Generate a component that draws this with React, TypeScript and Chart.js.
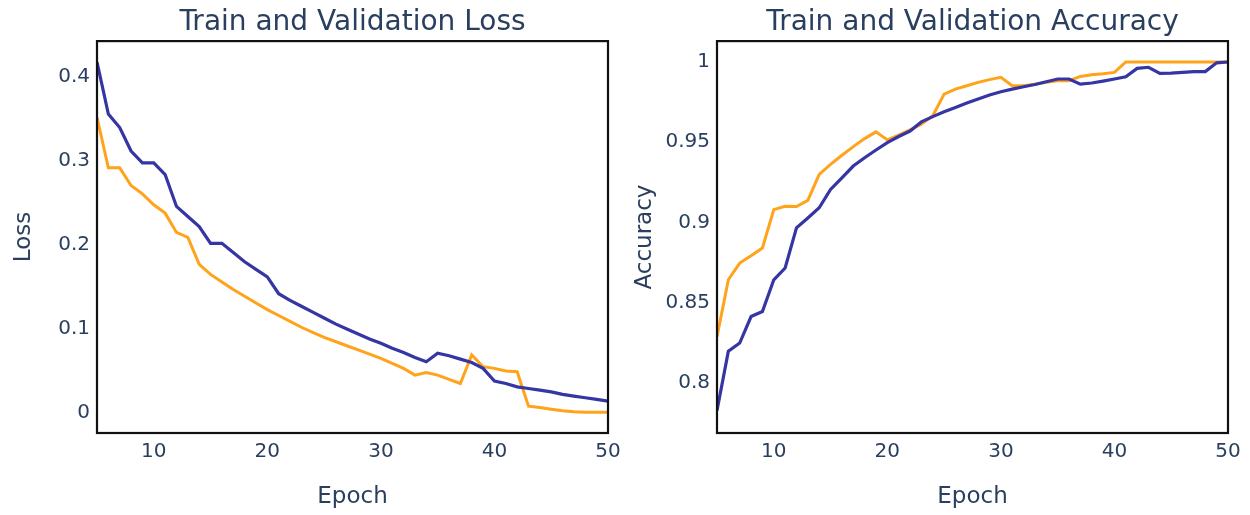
import React, { useEffect, useRef } from "react";
import { Chart, registerables } from "chart.js";

Chart.register(...registerables);

const EPOCHS = [5, 6, 7, 8, 9, 10, 11, 12, 13, 14, 15, 16, 17, 18, 19, 20, 21, 22, 23, 24, 25, 26, 27, 28, 29, 30, 31, 32, 33, 34, 35, 36, 37, 38, 39, 40, 41, 42, 43, 44, 45, 46, 47, 48, 49, 50];

const TRAIN_LOSS = [0.418, 0.356, 0.340, 0.312, 0.298, 0.298, 0.284, 0.246, 0.234, 0.222, 0.202, 0.202, 0.191, 0.180, 0.171, 0.162, 0.142, 0.134, 0.127, 0.120, 0.113, 0.106, 0.100, 0.094, 0.088, 0.083, 0.077, 0.072, 0.066, 0.061, 0.071, 0.068, 0.064, 0.060, 0.053, 0.038, 0.035, 0.031, 0.029, 0.027, 0.025, 0.022, 0.020, 0.018, 0.016, 0.014];

const VAL_LOSS = [0.352, 0.292, 0.292, 0.271, 0.261, 0.248, 0.238, 0.215, 0.209, 0.177, 0.165, 0.156, 0.147, 0.139, 0.131, 0.123, 0.116, 0.109, 0.102, 0.096, 0.090, 0.085, 0.080, 0.075, 0.070, 0.065, 0.059, 0.053, 0.045, 0.048, 0.045, 0.040, 0.035, 0.069, 0.055, 0.053, 0.050, 0.049, 0.008, 0.0065, 0.0044, 0.0025, 0.0013, 0.0008, 0.0008, 0.0008];

const TRAIN_ACC = [0.783, 0.820, 0.825, 0.8415, 0.8446, 0.8644, 0.8717, 0.8967, 0.9029, 0.9092, 0.9206, 0.9279, 0.9352, 0.9404, 0.9452, 0.9498, 0.9536, 0.957, 0.9627, 0.966, 0.969, 0.9717, 0.9744, 0.9769, 0.9794, 0.9815, 0.9831, 0.9846, 0.986, 0.9877, 0.9894, 0.9894, 0.9862, 0.9869, 0.9881, 0.9894, 0.9908, 0.996, 0.9967, 0.9929, 0.9931, 0.9935, 0.994, 0.994, 0.9995, 1.0];

const VAL_ACC = [0.829, 0.8644, 0.8748, 0.8794, 0.8842, 0.9081, 0.9102, 0.910, 0.9138, 0.930, 0.9362, 0.9419, 0.9473, 0.9523, 0.9565, 0.9515, 0.9544, 0.9578, 0.9613, 0.9665, 0.980, 0.9831, 0.9852, 0.9873, 0.989, 0.9904, 0.9852, 0.9852, 0.9862, 0.9873, 0.9883, 0.9883, 0.991, 0.9921, 0.9927, 0.9935, 1.0, 1.0, 1.0, 1.0, 1.0, 1.0, 1.0, 1.0, 1.0, 1.0];

const X_TICKS = [10, 20, 30, 40, 50];
const LOSS_TICKS = [0, 0.1, 0.2, 0.3, 0.4];
const ACC_TICKS = [0.8, 0.85, 0.9, 0.95, 1];

const TEXT_COLOR = "#2a3f5f";
const TRAIN_COLOR = "#3535a3";
const VAL_COLOR = "#ffa31a";
const FONT = "'DejaVu Sans', Verdana, sans-serif";

const framePlugin = {
  id: "frame",
  afterDatasetsDraw(chart: any) {
    const { ctx, chartArea } = chart;
    ctx.save();
    ctx.strokeStyle = "#111";
    ctx.lineWidth = 2.2;
    ctx.strokeRect(chartArea.left, chartArea.top, chartArea.right - chartArea.left, chartArea.bottom - chartArea.top);
    ctx.restore();
  },
};

type Cfg = {
  title: string;
  yTitle: string;
  train: number[];
  val: number[];
  yMin: number;
  yMax: number;
  yTicks: number[];
  yWidth: number;
  padRight: number;
  yTitlePad: number;
};

function TrainingChart(props: Cfg) {
  const ref = useRef<HTMLCanvasElement | null>(null);
  useEffect(() => {
    if (!ref.current) return;
    const chart = new Chart(ref.current, {
      type: "line",
      data: {
        datasets: [
          {
            label: "train",
            data: EPOCHS.map((e, i) => ({ x: e, y: props.train[i] })),
            borderColor: TRAIN_COLOR,
            borderWidth: 3.2,
            pointRadius: 0,
            tension: 0,
          },
          {
            label: "validation",
            data: EPOCHS.map((e, i) => ({ x: e, y: props.val[i] })),
            borderColor: VAL_COLOR,
            borderWidth: 3,
            pointRadius: 0,
            tension: 0,
          },
        ],
      },
      options: {
        responsive: false,
        animation: false,
        layout: { padding: { left: 0, right: props.padRight, top: 0, bottom: 0 } },
        plugins: {
          legend: { display: false },
          tooltip: { enabled: false },
          title: {
            display: true,
            text: props.title,
            fullSize: false,
            color: TEXT_COLOR,
            font: { family: FONT, size: 28, weight: "normal" },
            padding: { top: 6, bottom: 1.5 },
          },
        },
        scales: {
          x: {
            type: "linear",
            min: 5,
            max: 50,
            grid: { display: false, drawTicks: false },
            border: { display: false },
            afterBuildTicks: (axis: any) => {
              axis.ticks = X_TICKS.map((v) => ({ value: v }));
            },
            afterFit: (axis: any) => {
              axis.height = 82;
              axis.paddingLeft = 0;
              axis.paddingRight = 0;
            },
            ticks: {
              color: TEXT_COLOR,
              font: { family: FONT, size: 20 },
              padding: 7,
              maxRotation: 0,
              autoSkip: false,
            },
            title: {
              display: true,
              text: "Epoch",
              color: TEXT_COLOR,
              font: { family: FONT, size: 23 },
              padding: { top: 0, bottom: 4 },
            },
          },
          y: {
            type: "linear",
            min: props.yMin,
            max: props.yMax,
            grid: { display: false, drawTicks: false },
            border: { display: false },
            afterBuildTicks: (axis: any) => {
              axis.ticks = props.yTicks.map((v) => ({ value: v }));
            },
            afterFit: (axis: any) => {
              axis.width = props.yWidth;
              axis.paddingTop = 0;
              axis.paddingBottom = 0;
            },
            ticks: {
              color: TEXT_COLOR,
              font: { family: FONT, size: 20 },
              padding: 7,
              autoSkip: false,
              callback: (v: any) => String(Math.round(Number(v) * 1000) / 1000),
            },
            title: {
              display: true,
              text: props.yTitle,
              color: TEXT_COLOR,
              font: { family: FONT, size: 23 },
              padding: { top: props.yTitlePad, bottom: 0 },
            },
          },
        },
      },
      plugins: [framePlugin],
    } as any);
    return () => chart.destroy();
  }, []);
  return <canvas ref={ref} width={625} height={515} style={{ display: "block", width: 625, height: 515 }} />;
}

export default function App() {
  return (
    <div style={{ position: "absolute", left: 0, top: 0, width: 1250, height: 515, background: "#fff", display: "flex" }}>
      <TrainingChart
        title="Train and Validation Loss"
        yTitle="Loss"
        train={TRAIN_LOSS}
        val={VAL_LOSS}
        yMin={-0.024}
        yMax={0.443}
        yTicks={LOSS_TICKS}
        yWidth={97}
        padRight={17}
        yTitlePad={10}
      />
      <TrainingChart
        title="Train and Validation Accuracy"
        yTitle="Accuracy"
        train={TRAIN_ACC}
        val={VAL_ACC}
        yMin={0.769}
        yMax={1.013}
        yTicks={ACC_TICKS}
        yWidth={92}
        padRight={22}
        yTitlePad={6}
      />
    </div>
  );
}
